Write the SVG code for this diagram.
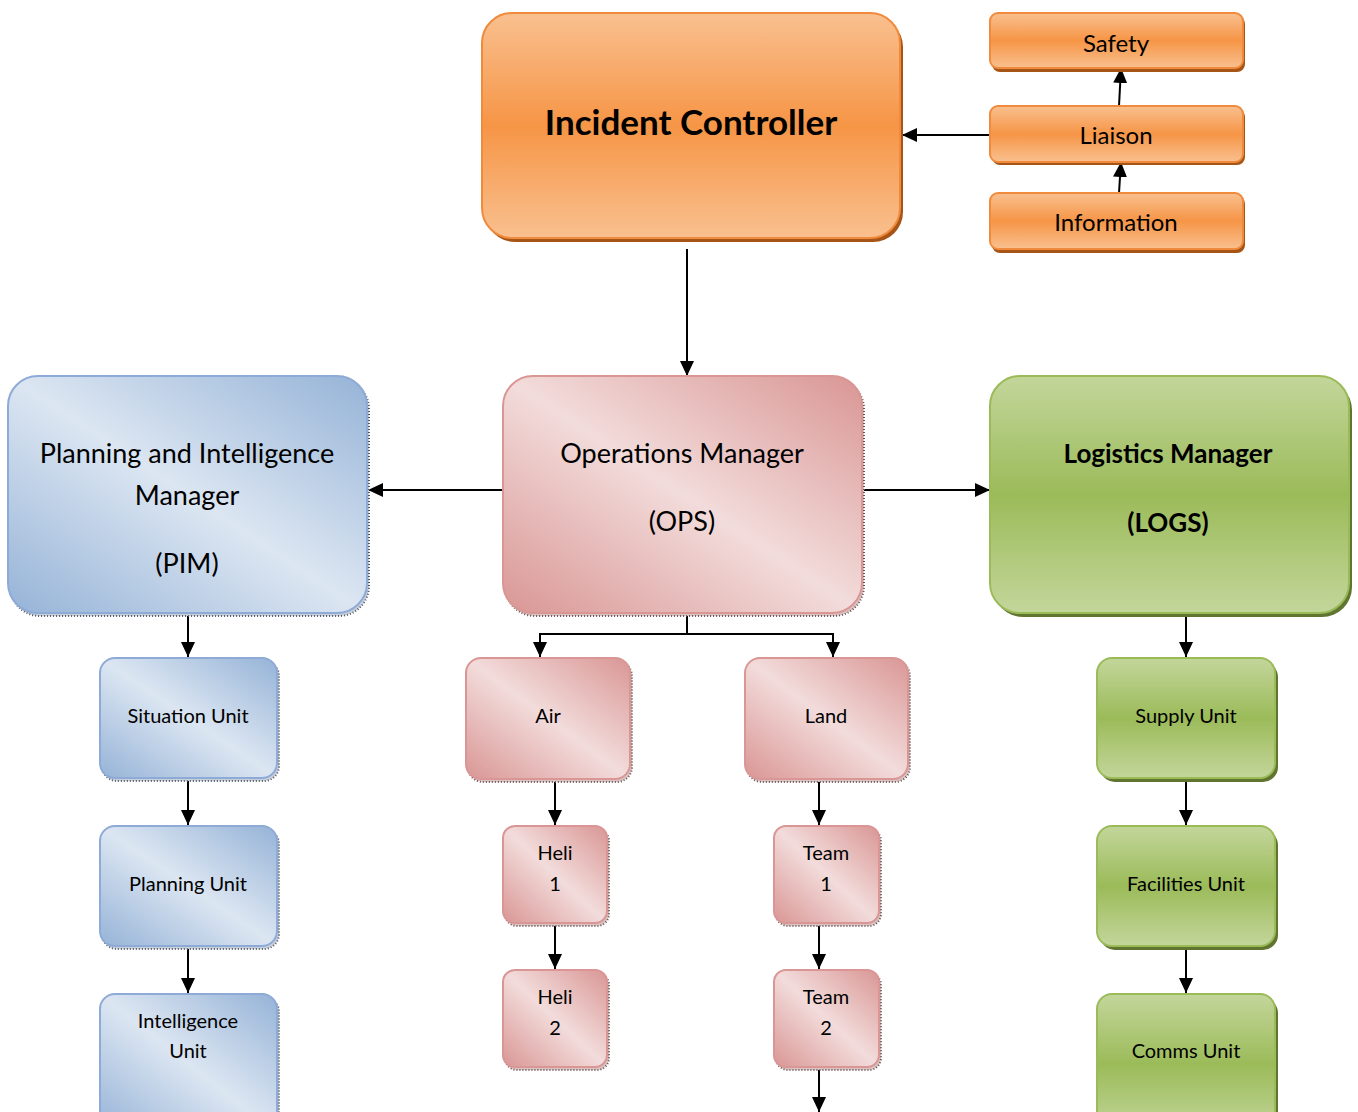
<svg xmlns="http://www.w3.org/2000/svg" width="1358" height="1112" viewBox="0 0 1358 1112">
<defs>
<linearGradient id="gOr" x1="0" y1="0" x2="0" y2="1">
<stop offset="0" stop-color="#f9c08f"/>
<stop offset="0.5" stop-color="#f69546"/>
<stop offset="1" stop-color="#f9c08f"/>
</linearGradient>
<linearGradient id="gGr" x1="0" y1="0" x2="0" y2="1">
<stop offset="0" stop-color="#c3d69b"/>
<stop offset="0.5" stop-color="#9bbb59"/>
<stop offset="1" stop-color="#c3d69b"/>
</linearGradient>
<linearGradient id="gBl" x1="0" y1="1" x2="1" y2="0">
<stop offset="0" stop-color="#95b3d7"/>
<stop offset="0.5" stop-color="#dce6f2"/>
<stop offset="1" stop-color="#95b3d7"/>
</linearGradient>
<linearGradient id="gPk" x1="0" y1="1" x2="1" y2="0">
<stop offset="0" stop-color="#d99694"/>
<stop offset="0.5" stop-color="#f2dcdb"/>
<stop offset="1" stop-color="#d99694"/>
</linearGradient>
<marker id="arr" viewBox="0 0 15 14" refX="15" refY="7" markerWidth="15" markerHeight="14" markerUnits="userSpaceOnUse" orient="auto">
<path d="M0,0 L15,7 L0,14 Z" fill="#000"/>
</marker>
</defs>
<style>
text{font-family:Lato,"Liberation Sans",sans-serif;fill:#000;text-anchor:middle}
.b{font-weight:bold}
.or{fill:url(#gOr);stroke:#f08a3c;stroke-width:2}
.orS{fill:#a65516}
.gr{fill:url(#gGr);stroke:#9bbb59;stroke-width:2}
.grS{fill:#5f7530}
.bl{fill:url(#gBl);stroke:#8eaad6;stroke-width:2}
.blS{fill:#c9d0da;stroke:#4e5866;stroke-width:2;stroke-dasharray:1 2}
.pk{fill:url(#gPk);stroke:#d99694;stroke-width:2}
.pkS{fill:#d9c4c4;stroke:#6a5050;stroke-width:2;stroke-dasharray:1 2}
.c{fill:none;stroke:#000;stroke-width:2}
.ca{fill:none;stroke:#000;stroke-width:2;marker-end:url(#arr)}
</style>
<rect width="1358" height="1112" fill="#fff"/>

<g id="connectors">
<path class="ca" d="M990,135 H902"/>
<path class="ca" d="M1119,193 L1121,162"/>
<path class="ca" d="M1119,106 L1121,68"/>
<path class="ca" d="M687,249 V376"/>
<path class="ca" d="M503,490 H368"/>
<path class="ca" d="M862,490 H990"/>
<path class="c" d="M687,613 V634 H540 M687,634 H833"/>
<path class="ca" d="M540,633 V657"/>
<path class="ca" d="M833,633 V657"/>
<path class="ca" d="M188,613 V657"/>
<path class="ca" d="M188,779 V825"/>
<path class="ca" d="M188,947 V993"/>
<path class="ca" d="M555,780 V825"/>
<path class="ca" d="M555,924 V969"/>
<path class="ca" d="M819,780 V825"/>
<path class="ca" d="M819,924 V969"/>
<path class="ca" d="M819,1068 V1112"/>
<path class="ca" d="M1186,613 V657"/>
<path class="ca" d="M1186,779 V825"/>
<path class="ca" d="M1186,947 V993"/>
</g>

<g id="incident-controller">
<rect class="orS" x="485" y="17" width="418" height="225" rx="30"/>
<rect class="or" x="482" y="13" width="418" height="225" rx="30"/>
<text class="b" x="691" y="135" font-size="35">Incident Controller</text>
</g>
<g id="safety">
<rect class="orS" x="992" y="16" width="253" height="56" rx="8"/>
<rect class="or" x="990" y="13" width="253" height="55" rx="8"/>
<text x="1116" y="52" font-size="24">Safety</text>
</g>
<g id="liaison">
<rect class="orS" x="992" y="109" width="253" height="56" rx="8"/>
<rect class="or" x="990" y="106" width="253" height="56" rx="8"/>
<text x="1116" y="144" font-size="24">Liaison</text>
</g>
<g id="information">
<rect class="orS" x="992" y="196" width="253" height="57" rx="8"/>
<rect class="or" x="990" y="193" width="253" height="56" rx="8"/>
<text x="1116" y="231" font-size="24">Information</text>
</g>

<g id="pim">
<rect class="blS" x="10" y="379" width="359" height="237" rx="30"/>
<rect class="bl" x="8" y="376" width="359" height="237" rx="30"/>
<text x="187" y="463" font-size="27">Planning and Intelligence</text>
<text x="187" y="505" font-size="27">Manager</text>
<text x="187" y="573" font-size="27">(PIM)</text>
</g>
<g id="ops">
<rect class="pkS" x="505" y="379" width="359" height="237" rx="30"/>
<rect class="pk" x="503" y="376" width="359" height="237" rx="30"/>
<text x="682" y="463" font-size="27">Operations Manager</text>
<text x="682" y="531" font-size="27">(OPS)</text>
</g>
<g id="logs">
<rect class="grS" x="993" y="380" width="359" height="237" rx="30"/>
<rect class="gr" x="990" y="376" width="359" height="237" rx="30"/>
<text class="b" x="1168" y="463" font-size="26">Logistics Manager</text>
<text class="b" x="1168" y="532" font-size="26">(LOGS)</text>
</g>

<g id="situation-unit">
<rect class="blS" x="102" y="661" width="177" height="120" rx="15"/>
<rect class="bl" x="100" y="658" width="177" height="120" rx="15"/>
<text x="188" y="723" font-size="20">Situation Unit</text>
</g>
<g id="planning-unit">
<rect class="blS" x="102" y="829" width="177" height="120" rx="15"/>
<rect class="bl" x="100" y="826" width="177" height="120" rx="15"/>
<text x="188" y="891" font-size="20">Planning Unit</text>
</g>
<g id="intelligence-unit">
<rect class="blS" x="102" y="997" width="177" height="140" rx="15"/>
<rect class="bl" x="100" y="994" width="177" height="140" rx="15"/>
<text x="188" y="1028" font-size="20">Intelligence</text>
<text x="188" y="1058" font-size="20">Unit</text>
</g>

<g id="air">
<rect class="pkS" x="468" y="661" width="164" height="121" rx="15"/>
<rect class="pk" x="466" y="658" width="164" height="121" rx="15"/>
<text x="548" y="723" font-size="20">Air</text>
</g>
<g id="land">
<rect class="pkS" x="747" y="661" width="163" height="121" rx="15"/>
<rect class="pk" x="745" y="658" width="163" height="121" rx="15"/>
<text x="826" y="723" font-size="20">Land</text>
</g>
<g id="heli-1">
<rect class="pkS" x="505" y="829" width="104" height="97" rx="12"/>
<rect class="pk" x="503" y="826" width="104" height="97" rx="12"/>
<text x="555" y="860" font-size="20">Heli</text>
<text x="555" y="891" font-size="20">1</text>
</g>
<g id="heli-2">
<rect class="pkS" x="505" y="973" width="104" height="97" rx="12"/>
<rect class="pk" x="503" y="970" width="104" height="97" rx="12"/>
<text x="555" y="1004" font-size="20">Heli</text>
<text x="555" y="1035" font-size="20">2</text>
</g>
<g id="team-1">
<rect class="pkS" x="776" y="829" width="105" height="97" rx="12"/>
<rect class="pk" x="774" y="826" width="105" height="97" rx="12"/>
<text x="826" y="860" font-size="20">Team</text>
<text x="826" y="891" font-size="20">1</text>
</g>
<g id="team-2">
<rect class="pkS" x="776" y="973" width="105" height="97" rx="12"/>
<rect class="pk" x="774" y="970" width="105" height="97" rx="12"/>
<text x="826" y="1004" font-size="20">Team</text>
<text x="826" y="1035" font-size="20">2</text>
</g>

<g id="supply-unit">
<rect class="grS" x="1100" y="662" width="178" height="120" rx="15"/>
<rect class="gr" x="1097" y="658" width="178" height="120" rx="15"/>
<text x="1186" y="723" font-size="20">Supply Unit</text>
</g>
<g id="facilities-unit">
<rect class="grS" x="1100" y="830" width="178" height="120" rx="15"/>
<rect class="gr" x="1097" y="826" width="178" height="120" rx="15"/>
<text x="1186" y="891" font-size="20">Facilities Unit</text>
</g>
<g id="comms-unit">
<rect class="grS" x="1100" y="998" width="178" height="140" rx="15"/>
<rect class="gr" x="1097" y="994" width="178" height="140" rx="15"/>
<text x="1186" y="1058" font-size="20">Comms Unit</text>
</g>
</svg>
